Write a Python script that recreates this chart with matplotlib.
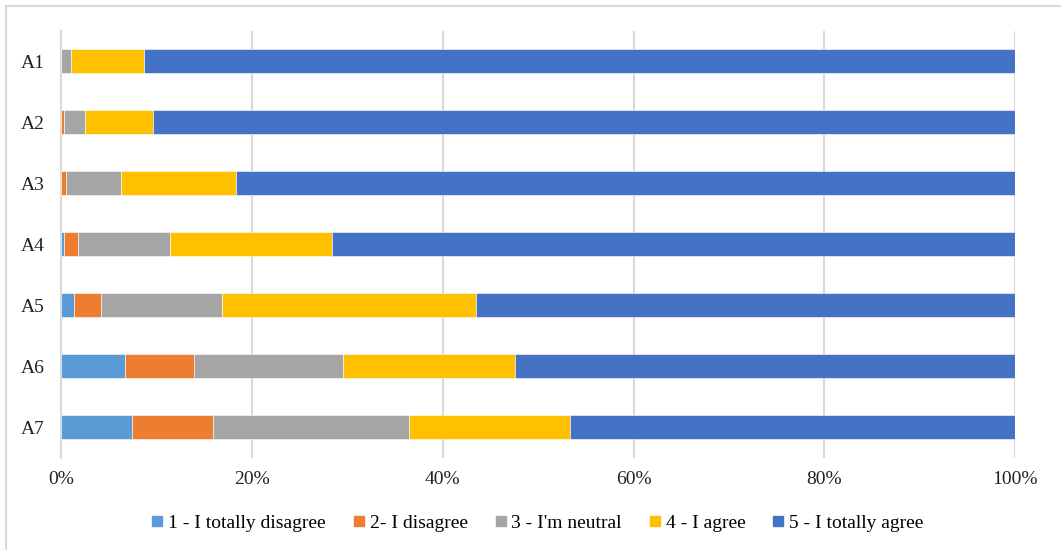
import matplotlib
matplotlib.use("Agg")
import matplotlib.pyplot as plt
from matplotlib.lines import Line2D
import numpy as np

categories = ["A1", "A2", "A3", "A4", "A5", "A6", "A7"]
series_names = ["1 - I totally disagree", "2- I disagree", "3 - I'm neutral",
                "4 - I agree", "5 - I totally agree"]
totally_disagree = [0.0, 0.0, 0.0, 0.35, 1.4, 6.7, 7.4]
disagree = [0.0, 0.3, 0.5, 1.45, 2.75, 7.2, 8.55]
neutral = [1.0, 2.2, 5.8, 9.6, 12.75, 15.7, 20.55]
agree = [7.7, 7.1, 12.0, 17.0, 26.6, 18.0, 16.8]
totally_agree = [91.3, 90.4, 81.7, 71.6, 56.5, 52.4, 46.7]
xtick_labels = ["0%", "20%", "40%", "60%", "80%", "100%"]

colors = ["#5B9BD5", "#ED7D31", "#A5A5A5", "#FFC000", "#4472C4"]

plt.rcParams['font.family'] = ['Liberation Serif', 'DejaVu Serif']

W, H = 1061, 550
fig = plt.figure(figsize=(W / 100, H / 100), dpi=100)
ax = fig.add_axes([61 / W, 1 - 457.5 / H, 954.3 / W, 427 / H])

data = [totally_disagree, disagree, neutral, agree, totally_agree]
y = np.arange(len(categories))
left = np.zeros(len(categories))
handles = []
for vals, name, c in zip(data, series_names, colors):
    vals = np.array(vals)
    ax.barh(y, vals, left=left, height=0.40, color=c, edgecolor='white',
            linewidth=0.4, label=name, zorder=3)
    left += vals
    handles.append(Line2D([], [], marker='s', linestyle='none', markersize=7.5,
                          markerfacecolor=c, markeredgecolor=c, label=name))

ax.set_xlim(0, 100)
ax.set_ylim(6.5, -0.5)
ax.set_yticks(y)
ax.set_yticklabels(categories)
ax.set_xticks(np.linspace(0, 100, 6))
ax.set_xticklabels(xtick_labels)
ax.tick_params(axis='both', length=0, labelsize=14, colors='#222222')
ax.tick_params(axis='y', pad=11.5)
ax.tick_params(axis='x', pad=10)
ax.grid(axis='x', color='#D9D9D9', linewidth=1.5, zorder=0)
for s in ['top', 'right', 'bottom']:
    ax.spines[s].set_visible(False)
ax.spines['left'].set_color('#D9D9D9')
ax.spines['left'].set_linewidth(1.5)

leg = fig.legend(handles=handles, loc='center', ncol=5,
                 bbox_to_anchor=(538 / W, 1 - 523 / H), frameon=False,
                 fontsize=14, handlelength=0.5, handletextpad=0.3,
                 columnspacing=1.45, borderpad=0)

# chart frame
fig.add_artist(Line2D([6 / W, 1], [1 - 6 / H, 1 - 6 / H], color='#D9D9D9',
                      linewidth=1.5, transform=fig.transFigure))
fig.add_artist(Line2D([6 / W, 6 / W], [0, 1 - 6 / H], color='#D9D9D9',
                      linewidth=1.5, transform=fig.transFigure))

fig.savefig("out.png", dpi=100)
